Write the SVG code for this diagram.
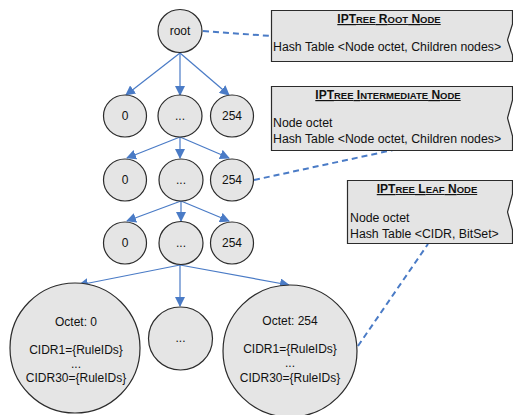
<svg xmlns="http://www.w3.org/2000/svg" width="513" height="415" viewBox="0 0 513 415">
  <defs>
    <style>
      .node { fill: #e5e5e5; stroke: #2b2b2b; stroke-width: 1.2; }
      .box { fill: #e4e4e4; stroke: #2b2b2b; stroke-width: 1.2; }
      .lbl { font-family: "Liberation Sans", Arial, sans-serif; font-size: 12px; fill: #111; text-anchor: middle; }
      .body { font-family: "Liberation Sans", Arial, sans-serif; font-size: 12.3px; fill: #111; }
      .title { font-family: "Liberation Sans", Arial, sans-serif; font-size: 12px; font-weight: bold; text-decoration: underline; fill: #111; text-anchor: middle; }
      .sc { font-size: 9.5px; }
      .edge { stroke: #4a7bc6; stroke-width: 1.2; fill: none; marker-end: url(#arrow); }
      .dash { stroke: #4a7bc6; stroke-width: 2; fill: none; stroke-dasharray: 6 4; }
    </style>
    <marker id="arrow" viewBox="0 0 10 10" refX="9" refY="5" markerWidth="10" markerHeight="10" markerUnits="userSpaceOnUse" orient="auto">
      <path d="M0,0 L10,5 L0,10 z" fill="#4a7bc6"/>
    </marker>
  </defs>

  <rect width="513" height="415" fill="#ffffff"/>

  <!-- tree edges and note links -->
  <g id="connectors">
    <line class="edge" x1="180" y1="53" x2="126" y2="95"/>
    <line class="edge" x1="180" y1="53" x2="180" y2="95"/>
    <line class="edge" x1="180" y1="53" x2="229" y2="95"/>

    <line class="edge" x1="180" y1="137" x2="127" y2="158"/>
    <line class="edge" x1="180" y1="137" x2="180" y2="158"/>
    <line class="edge" x1="180" y1="137" x2="229" y2="158"/>

    <line class="edge" x1="181" y1="201" x2="127" y2="221"/>
    <line class="edge" x1="181" y1="201" x2="181" y2="221"/>
    <line class="edge" x1="181" y1="201" x2="229" y2="221"/>

    <line class="edge" x1="180" y1="265" x2="79" y2="285"/>
    <line class="edge" x1="180" y1="265" x2="180" y2="306"/>
    <line class="edge" x1="180" y1="265" x2="289" y2="285"/>

    <line class="dash" x1="203" y1="31" x2="271" y2="36"/>
    <line class="dash" x1="254" y1="180" x2="393" y2="150"/>
    <line class="dash" x1="358" y1="346" x2="428" y2="244"/>
  </g>

  <!-- root -->
  <g id="root">
    <ellipse class="node" cx="180" cy="31" rx="22" ry="21.5"/>
    <text class="lbl" x="180" y="35">root</text>
  </g>

  <!-- first level -->
  <g id="l1-0">
    <ellipse class="node" cx="125" cy="116" rx="21.5" ry="21"/>
    <text class="lbl" x="125" y="120">0</text>
  </g>
  <g id="l1-mid">
    <ellipse class="node" cx="180" cy="116" rx="22" ry="21"/>
    <text class="lbl" x="180" y="120">...</text>
  </g>
  <g id="l1-254">
    <ellipse class="node" cx="232" cy="116" rx="21.5" ry="21"/>
    <text class="lbl" x="232" y="120">254</text>
  </g>

  <!-- second level -->
  <g id="l2-0">
    <ellipse class="node" cx="125" cy="180" rx="21.5" ry="21"/>
    <text class="lbl" x="125" y="184">0</text>
  </g>
  <g id="l2-mid">
    <ellipse class="node" cx="181" cy="180" rx="22" ry="21"/>
    <text class="lbl" x="181" y="184">...</text>
  </g>
  <g id="l2-254">
    <ellipse class="node" cx="232" cy="180" rx="21.5" ry="21"/>
    <text class="lbl" x="232" y="184">254</text>
  </g>

  <!-- third level -->
  <g id="l3-0">
    <ellipse class="node" cx="125" cy="243" rx="21.5" ry="21"/>
    <text class="lbl" x="125" y="247">0</text>
  </g>
  <g id="l3-mid">
    <ellipse class="node" cx="181" cy="243" rx="22" ry="21.5"/>
    <text class="lbl" x="181" y="247">...</text>
  </g>
  <g id="l3-254">
    <ellipse class="node" cx="232" cy="243" rx="21.5" ry="21"/>
    <text class="lbl" x="232" y="247">254</text>
  </g>

  <!-- leaves -->
  <g id="leaf-0">
    <ellipse class="node" cx="75" cy="348" rx="65" ry="65"/>
    <text class="lbl" x="76" y="326">Octet: 0</text>
    <text class="lbl" x="76" y="354">CIDR1={RuleIDs}</text>
    <text class="lbl" x="76" y="368">...</text>
    <text class="lbl" x="76" y="382">CIDR30={RuleIDs}</text>
  </g>
  <g id="leaf-mid">
    <ellipse class="node" cx="180.5" cy="338.5" rx="32" ry="31.5"/>
    <text class="lbl" x="180.5" y="342">...</text>
  </g>
  <g id="leaf-254">
    <ellipse class="node" cx="290" cy="351" rx="67" ry="66"/>
    <text class="lbl" x="290" y="325">Octet: 254</text>
    <text class="lbl" x="290" y="353">CIDR1={RuleIDs}</text>
    <text class="lbl" x="290" y="367">...</text>
    <text class="lbl" x="290" y="382">CIDR30={RuleIDs}</text>
  </g>

  <!-- note boxes -->
  <g id="note-root">
    <path class="box" d="M271.5,10.5 H512.5 V24 L507.5,40 L512.5,55 V61.5 H271.5 Z"/>
    <text class="title" x="389" y="23">IPT<tspan class="sc">REE</tspan> R<tspan class="sc">OOT</tspan> N<tspan class="sc">ODE</tspan></text>
    <text class="body" x="273" y="51">Hash Table &lt;Node octet, Children nodes&gt;</text>
  </g>
  <g id="note-intermediate">
    <path class="box" d="M271.5,86.5 H512.5 V100 L507.5,118 L512.5,136 V150.5 H271.5 Z"/>
    <text class="title" x="388" y="99">IPT<tspan class="sc">REE</tspan> I<tspan class="sc">NTERMEDIATE</tspan> N<tspan class="sc">ODE</tspan></text>
    <text class="body" x="273" y="127">Node octet</text>
    <text class="body" x="273" y="143">Hash Table &lt;Node octet, Children nodes&gt;</text>
  </g>
  <g id="note-leaf">
    <path class="box" d="M347.5,180.5 H512.5 V194 L507.5,212 L512.5,230 V243.5 H347.5 Z"/>
    <text class="title" x="427" y="193">IPT<tspan class="sc">REE</tspan> L<tspan class="sc">EAF</tspan> N<tspan class="sc">ODE</tspan></text>
    <text class="body" x="350" y="222">Node octet</text>
    <text class="body" x="350" y="238">Hash Table &lt;CIDR, BitSet&gt;</text>
  </g>
</svg>
